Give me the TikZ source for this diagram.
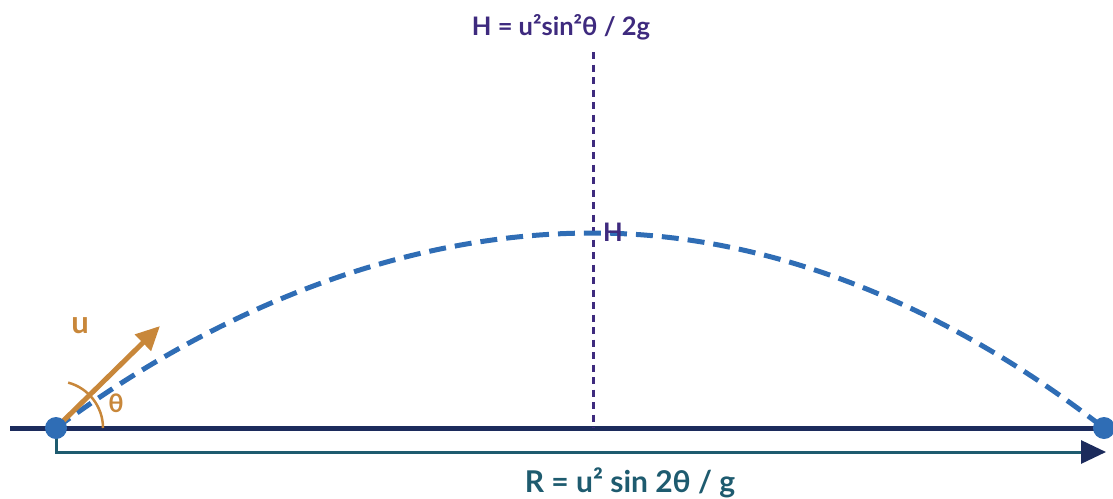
\documentclass[tikz,border=0pt]{standalone}
\usepackage{fontspec}
\setmainfont{Lato}
\usepackage{tikz}
\usetikzlibrary{positioning}
\usetikzlibrary{arrows.meta}
\usepackage{xcolor}
\definecolor{navy}{HTML}{1C2B5C}
\definecolor{pathblue}{HTML}{2F6DB5}
\definecolor{ochre}{HTML}{C8873A}
\definecolor{plum}{HTML}{3E2A7E}
\definecolor{teal}{HTML}{1E5B6F}

\begin{document}
\begin{tikzpicture}[x=1pt, y=-1pt, every node/.style={inner sep=0pt, anchor=base, font=\bfseries\fontsize{25.5}{30}\selectfont},
    dot/.style={circle, fill=pathblue, minimum size=22pt, inner sep=0pt},
    lbl/.style={text=#1}]
        \useasboundingbox (0,0) rectangle (1113,498);
        \coordinate (launch) at (56, 428);
        \coordinate (land) at (1104, 428);
        \coordinate (peak) at (593, 233);
        \coordinate (groundL) at (10, 428);
        \coordinate (groundR) at (1113, 428);
        \coordinate (top) at (593, 52);
        \coordinate (foot) at (593, 428);
        \coordinate (tip) at (160, 326);
        \coordinate (rangeL) at (56, 452);
        \coordinate (rangeR) at (1106, 452);

        \draw[navy, line width=5pt] (groundL) -- (groundR);
        \draw[teal, line width=3pt, -{Triangle[length=25pt, width=23pt, color=navy]}] (launch) -- (rangeL) -- (rangeR);
        \draw[plum, line width=3pt, dash pattern=on 7pt off 5.5pt] (top) -- (foot);
        \draw[pathblue, line width=5pt, dash pattern=on 17pt off 9pt] (launch) parabola bend (peak) (land);
        \draw[ochre, line width=5pt, -{Triangle[length=24pt, width=22pt]}] (launch) -- (tip);
        \draw[ochre, line width=2.5pt] (launch) ++(47,0) arc[start angle=0, end angle=-75, radius=47];

        \node[dot] (launchdot) at (launch) {};
        \node[dot] (landdot) at (land) {};

        \node[lbl=plum] (hform) at (561, 35) {H = u²sin²θ / 2g};
        \node[lbl=plum] (hmark) at (613, 241) {H};
        \node[lbl=ochre, font=\bfseries\fontsize{31}{36}\selectfont] (ulabel) at (80, 333) {u};
        \node[lbl=ochre] (thlabel) at (116, 412) {θ};
        \node[lbl=teal, font=\bfseries\fontsize{30}{36}\selectfont] (rform) at (630, 492) {R = u² sin 2θ / g};
    \end{tikzpicture}
\end{document}
